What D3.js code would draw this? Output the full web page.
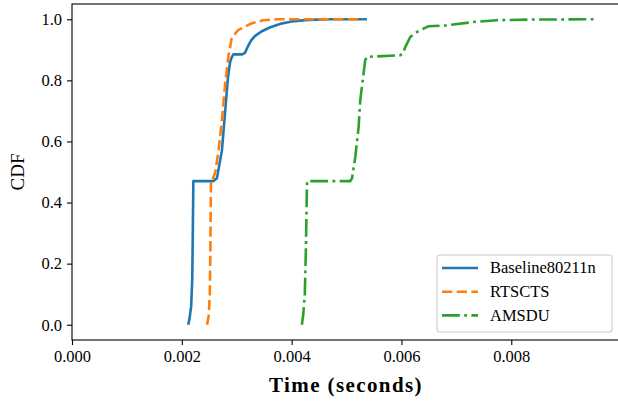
<!DOCTYPE html>
<html>
<head>
<meta charset="utf-8">
<script src="https://cdn.jsdelivr.net/npm/d3@7"></script>
<style>
  html, body { margin: 0; padding: 0; background: #fff; }
  svg { display: block; }
  text { font-family: "Liberation Serif", "DejaVu Serif", serif; fill: #000; }
</style>
</head>
<body>
<svg id="chart" width="618" height="402"></svg>
<script>
// ---- data (time in seconds, CDF) ----
const seriesNames = ["Baseline80211n", "RTSCTS", "AMSDU"];
const seriesColors = ["#1f77b4", "#ff7f0e", "#2ca02c"];

const baselineTime = [0.002117, 0.00214, 0.00217, 0.00219, 0.00220, 0.00221, 0.00257, 0.00264, 0.00268, 0.00273, 0.00279, 0.00284, 0.00288, 0.00291, 0.00294, 0.00310, 0.00315, 0.00320, 0.00326, 0.00333, 0.00345, 0.00360, 0.00380, 0.00400, 0.00430, 0.00470, 0.00537];
const baselineCdf  = [0, 0.02, 0.06, 0.15, 0.30, 0.47, 0.47, 0.48, 0.52, 0.57, 0.70, 0.81, 0.86, 0.876, 0.885, 0.885, 0.89, 0.91, 0.93, 0.945, 0.96, 0.973, 0.985, 0.993, 0.998, 1.0, 1.0];

const rtsctsTime = [0.00246, 0.00249, 0.00251, 0.00252, 0.00253, 0.00255, 0.00261, 0.00267, 0.00273, 0.00279, 0.00285, 0.00291, 0.00303, 0.00325, 0.00348, 0.00373, 0.00530];
const rtsctsCdf  = [0, 0.03, 0.10, 0.25, 0.47, 0.47, 0.50, 0.572, 0.67, 0.79, 0.88, 0.94, 0.965, 0.985, 0.997, 1.0, 1.0];

const amsduTime = [0.004186, 0.00421, 0.00424, 0.00426, 0.00428, 0.00507, 0.00510, 0.00516, 0.00522, 0.00525, 0.00531, 0.00534, 0.00537, 0.00598, 0.00603, 0.00607, 0.00616, 0.00625, 0.00634, 0.00649, 0.00682, 0.00731, 0.00773, 0.00834, 0.00955];
const amsduCdf  = [0, 0.03, 0.10, 0.25, 0.47, 0.47, 0.48, 0.55, 0.648, 0.735, 0.823, 0.866, 0.877, 0.882, 0.89, 0.909, 0.942, 0.955, 0.964, 0.977, 0.980, 0.991, 0.997, 0.999, 1.0];

const xTicks = [0, 0.002, 0.004, 0.006, 0.008];
const yTicks = [0, 0.2, 0.4, 0.6, 0.8, 1.0];
const xLabel = "Time (seconds)";
const yLabel = "CDF";

(function () {
// ---- layout ----
const svg = d3.select("#chart");
const mLeft = 72, mRight = 620, mTop = 4, mBottom = 340;

const x = d3.scaleLinear().domain([0, 0.00998]).range([mLeft, mRight]);
const y = d3.scaleLinear().domain([-0.05, 1.05]).range([mBottom, mTop]);

const series = [
  { name: seriesNames[0], color: seriesColors[0], dash: null,
    pts: baselineTime.map((t, i) => [t, baselineCdf[i]]) },
  { name: seriesNames[1], color: seriesColors[1], dash: "10.3,4.4",
    pts: rtsctsTime.map((t, i) => [t, rtsctsCdf[i]]) },
  { name: seriesNames[2], color: seriesColors[2], dash: "17.8,4.4,2.8,4.4",
    pts: amsduTime.map((t, i) => [t, amsduCdf[i]]) }
];

const line = d3.line().x(d => x(d[0])).y(d => y(d[1]));

// lines
svg.append("g").selectAll("path").data(series).join("path")
  .attr("d", d => line(d.pts))
  .attr("fill", "none")
  .attr("stroke", d => d.color)
  .attr("stroke-width", 2.6)
  .attr("stroke-linejoin", "round")
  .attr("stroke-dasharray", d => d.dash);

// axes
const xAxis = d3.axisBottom(x).tickValues(xTicks).tickFormat(d3.format(".3f")).tickSize(5).tickPadding(5);
const yAxis = d3.axisLeft(y).tickValues(yTicks).tickFormat(d3.format(".1f")).tickSize(5).tickPadding(5);

const gx = svg.append("g").attr("transform", `translate(0,${mBottom})`).call(xAxis);
const gy = svg.append("g").attr("transform", `translate(${mLeft},0)`).call(yAxis);
[gx, gy].forEach(g => {
  g.select(".domain").remove();
  g.selectAll(".tick line").attr("stroke", "#000").attr("stroke-width", 1.1);
  g.selectAll(".tick text").attr("font-family", "Liberation Serif").attr("font-size", 16.5).attr("fill", "#111");
});

// spines
svg.append("rect")
  .attr("x", mLeft).attr("y", mTop)
  .attr("width", mRight - mLeft).attr("height", mBottom - mTop)
  .attr("fill", "none").attr("stroke", "#000").attr("stroke-width", 1.1);

// axis labels
svg.append("text")
  .attr("x", (mLeft + mRight) / 2).attr("y", 392)
  .attr("text-anchor", "middle")
  .attr("font-size", 21).attr("font-weight", "bold")
  .attr("letter-spacing", 1.4)
  .text(xLabel);

svg.append("text")
  .attr("transform", `translate(24,${(y(1) + y(0)) / 2}) rotate(-90)`)
  .attr("text-anchor", "middle")
  .attr("font-size", 19)
  .text(yLabel);

// legend
const lg = svg.append("g");
lg.append("rect")
  .attr("x", 437).attr("y", 255).attr("width", 175).attr("height", 77)
  .attr("rx", 3).attr("ry", 3)
  .attr("fill", "#fff").attr("fill-opacity", 0.8)
  .attr("stroke", "#cccccc").attr("stroke-width", 1.1);

const rows = lg.selectAll("g.row").data(series).join("g")
  .attr("class", "row")
  .attr("transform", (d, i) => `translate(0,${268 + i * 23.7})`);
rows.append("line")
  .attr("x1", 442).attr("x2", 478).attr("y1", 0).attr("y2", 0)
  .attr("stroke", d => d.color).attr("stroke-width", 2.6)
  .attr("stroke-dasharray", d => d.dash);
rows.append("text")
  .attr("x", 490).attr("y", 0).attr("dy", "0.33em")
  .attr("font-size", 16.5).attr("fill", "#111")
  .text(d => d.name);
})();
</script>
</body>
</html>
